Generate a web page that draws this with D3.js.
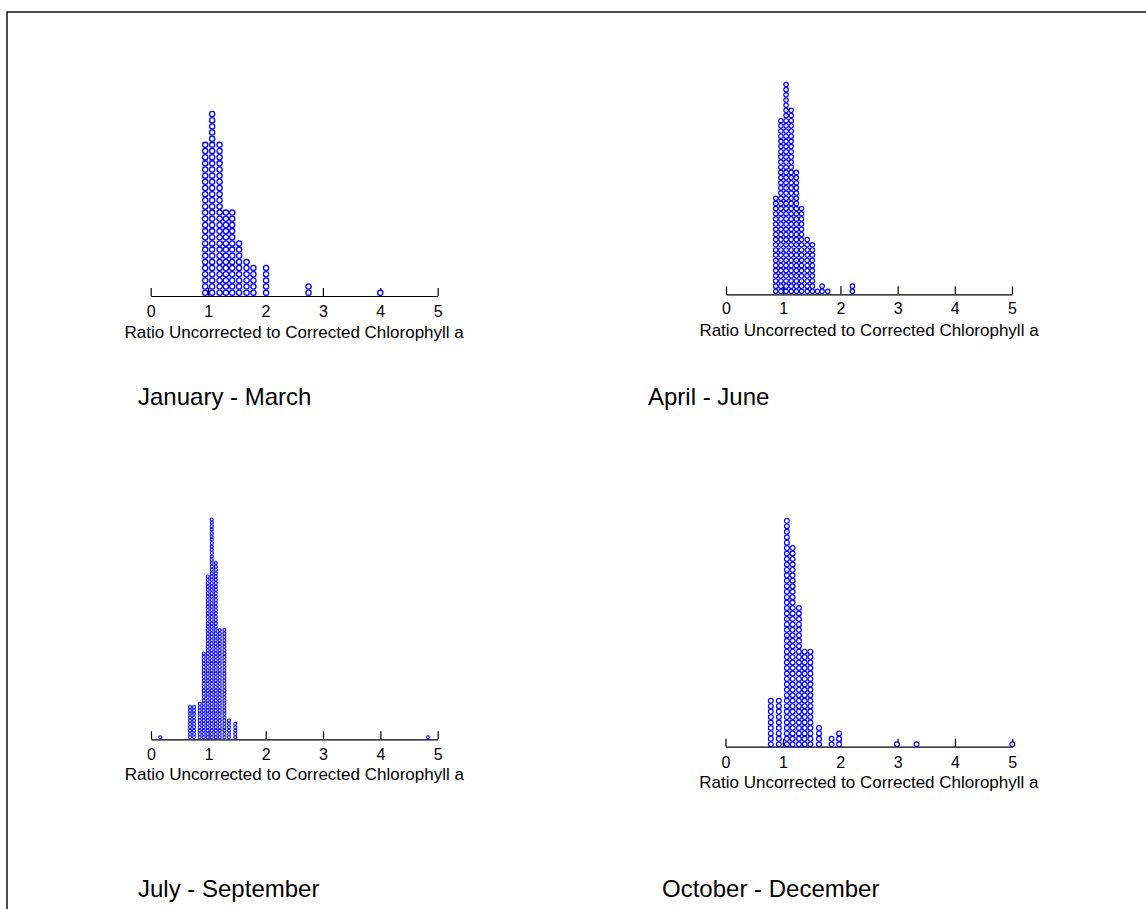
<!DOCTYPE html>
<html>
<head>
<meta charset="utf-8">
<script src="https://cdn.jsdelivr.net/npm/d3@7"></script>
<style>
  body { margin: 0; background: #fff; }
  svg { display: block; font-family: "Liberation Sans", Arial, sans-serif; }
</style>
</head>
<body>
<svg id="chart" width="1146" height="909"></svg>
<script>
// tick labels and texts
var tickValues = [0, 1, 2, 3, 4, 5];
var axisTitle = 'Ratio Uncorrected to Corrected Chlorophyll a';
var periods = ['January - March', 'April - June', 'July - September', 'October - December'];

// bin centres (ratio) and number of stacked dots per bin
var janMarRatio = [0.95, 1.07, 1.20, 1.31, 1.42, 1.54, 1.67, 1.79, 2.01, 2.75, 4.0];
var janMarCount = [25, 30, 25, 14, 14, 9, 6, 5, 5, 2, 1];

var aprJunRatio = [0.87, 0.96, 1.05, 1.14, 1.23, 1.32, 1.42, 1.51, 1.60, 1.68, 1.78, 2.21];
var aprJunCount = [19, 34, 41, 36, 24, 17, 11, 10, 1, 2, 1, 2];

var julSepRatio = [0.16, 0.68, 0.75, 0.85, 0.92, 0.99, 1.06, 1.13, 1.20, 1.28, 1.36, 1.47, 4.83];
var julSepCount = [1, 10, 10, 11, 26, 49, 66, 53, 33, 33, 6, 5, 1];

var octDecRatio = [0.79, 0.93, 1.07, 1.17, 1.28, 1.38, 1.48, 1.63, 1.85, 1.98, 2.99, 3.33, 5.0];
var octDecCount = [9, 9, 42, 37, 26, 18, 18, 4, 2, 3, 1, 1, 1];

var svg = d3.select('#chart');

// frame (only top and left edges show)
svg.append('path')
  .attr('d', 'M7,915V12H1150')
  .attr('fill', 'none')
  .attr('stroke', '#111')
  .attr('stroke-width', 1.5);

var panels = [
  { ratio: janMarRatio, count: janMarCount, label: periods[0],
    x0: 150.7, x1: 437.7, axisY: 296, base: 292.7, step: 6.16, r: 2.6, sw: 1.3,
    tickOff: 20.7, titleY: 338.3, labelX: 138, labelY: 405 },
  { ratio: aprJunRatio, count: aprJunCount, label: periods[1],
    x0: 726, x1: 1012, axisY: 294.3, base: 291.3, step: 5.17, r: 2.2, sw: 1.2,
    tickOff: 19.5, titleY: 336, labelX: 648, labelY: 405 },
  { ratio: julSepRatio, count: julSepCount, label: periods[2],
    x0: 151, x1: 437.7, axisY: 739.3, base: 737.3, step: 3.35, r: 1.5, sw: 1.1,
    tickOff: 20.7, titleY: 780, labelX: 138, labelY: 897 },
  { ratio: octDecRatio, count: octDecCount, label: periods[3],
    x0: 725.5, x1: 1012.3, axisY: 746.7, base: 744.3, step: 5.45, r: 2.4, sw: 1.2,
    tickOff: 21.6, titleY: 788.3, labelX: 662, labelY: 897 }
];

panels.forEach(function(p) {
  var x = d3.scaleLinear().domain([0, 5]).range([p.x0, p.x1]);
  // stack index -> vertical position
  var y = d3.scaleLinear().domain([0, 1]).range([p.base, p.base - p.step]);

  var g = svg.append('g');

  var dots = [];
  p.ratio.forEach(function(v, i) {
    for (var k = 0; k < p.count[i]; k++) dots.push({ v: v, k: k });
  });

  var axis = d3.axisBottom(x)
    .tickValues(tickValues)
    .tickFormat(d3.format('d'))
    .tickSizeInner(-8)
    .tickSizeOuter(0)
    .tickPadding(p.tickOff - 11.4);

  var ax = g.append('g')
    .attr('transform', 'translate(0,' + p.axisY + ')')
    .attr('font-size', null)
    .attr('font-family', null)
    .call(axis);
  ax.select('.domain').attr('stroke', '#000').attr('stroke-width', 1.2);
  ax.selectAll('.tick line').attr('stroke', '#000').attr('stroke-width', 1.2);
  ax.selectAll('.tick text')
    .attr('fill', '#000')
    .attr('font-size', 16)
    .attr('font-family', '"Liberation Sans", Arial, sans-serif');

  g.selectAll('circle.dot')
    .data(dots).enter().append('circle')
    .attr('class', 'dot')
    .attr('cx', function(d) { return x(d.v); })
    .attr('cy', function(d) { return y(d.k); })
    .attr('r', p.r)
    .attr('fill', '#fff')
    .attr('stroke', '#0000ff')
    .attr('stroke-width', p.sw);

  g.append('text')
    .attr('x', (p.x0 + p.x1) / 2)
    .attr('y', p.titleY)
    .attr('text-anchor', 'middle')
    .attr('font-size', 17)
    .text(axisTitle);

  g.append('text')
    .attr('x', p.labelX)
    .attr('y', p.labelY)
    .attr('font-size', 24)
    .text(p.label);
});
</script>
</body>
</html>
